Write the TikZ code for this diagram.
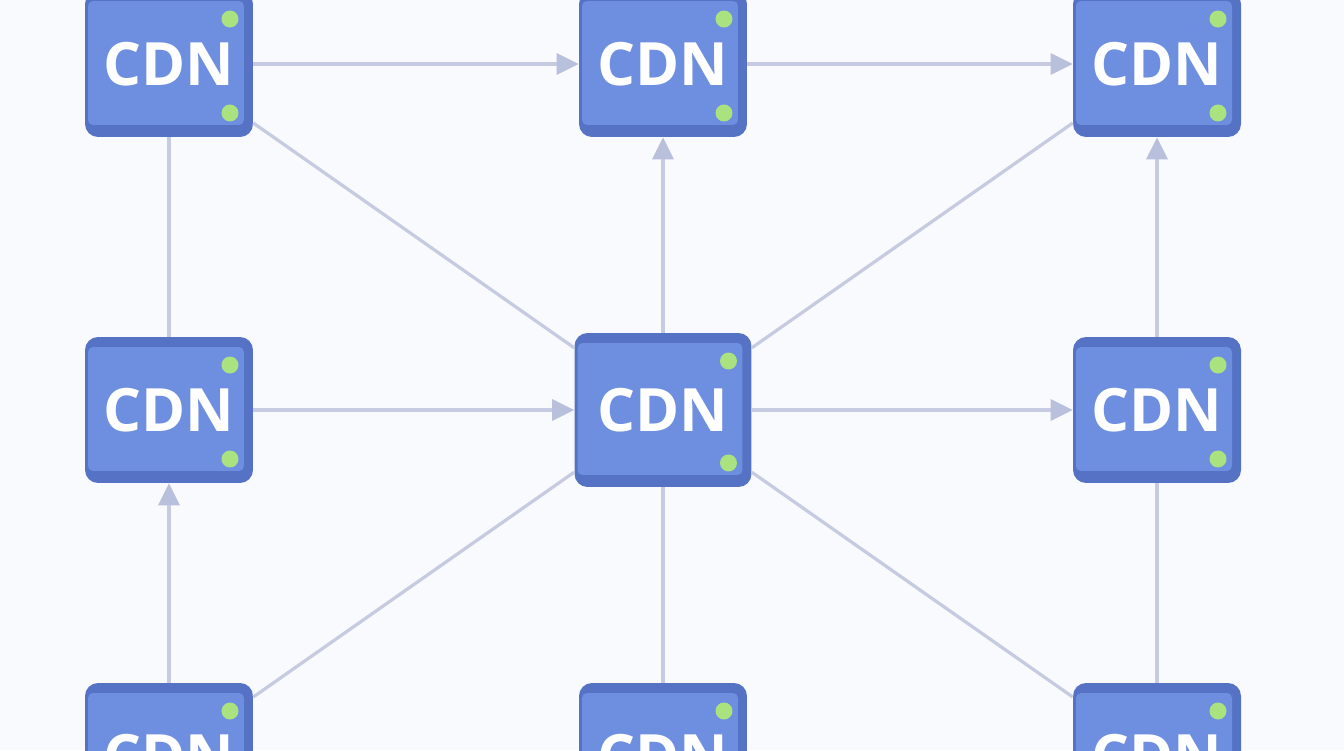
\documentclass[tikz,border=0pt]{standalone}
\usepackage{fontspec}
\usetikzlibrary{positioning}
\usetikzlibrary{arrows.meta}
\newfontfamily\cdnfont{Open Sans}
\definecolor{cdnrim}{HTML}{5672C4}
\definecolor{cdnface}{HTML}{6E8FE0}
\definecolor{cdnled}{HTML}{A9E27E}
\definecolor{linkgray}{HTML}{C6CBE1}
\definecolor{tipgray}{HTML}{B9C0DB}
\definecolor{paper}{HTML}{F9FAFD}

\tikzset{
  cdn/.style={rectangle, rounded corners=0.26cm, fill=cdnrim,
    minimum width=3.36cm, minimum height=2.92cm, inner sep=0pt,
    text=white, font=\cdnfont\bfseries\fontsize{34}{34}\selectfont,
    path picture={
      \fill[cdnface, rounded corners=0.1cm]
        ([shift={(0.06cm,-0.2cm)}]path picture bounding box.north west)
        rectangle ([shift={(-0.18cm,0.24cm)}]path picture bounding box.south east);
      \fill[cdnled] ([shift={(-0.46cm,-0.56cm)}]path picture bounding box.north east) circle (0.17cm);
      \fill[cdnled] ([shift={(-0.46cm,0.48cm)}]path picture bounding box.south east) circle (0.17cm);
    }},
  cdnbig/.style={cdn, minimum width=3.54cm, minimum height=3.08cm},
  link/.style={draw=linkgray, line width=0.065cm},
  flow/.style={link, -{Triangle[length=0.44cm, width=0.42cm, color=tipgray]}}
}

\begin{document}
\begin{tikzpicture}[x=0.02cm, y=-0.02cm]

\useasboundingbox (0,0) rectangle (1344,750);
\clip (0,0) rectangle (1344,750);
\fill[paper] (0,0) rectangle (1344,750);

% nodes %
{
\node[cdn] (tl) at (169,64) {CDN};
\node[cdn] (tc) at (663,64) {CDN};
\node[cdn] (tr) at (1157,64) {CDN};

\node[cdn] (ml) at (169,410) {CDN};
\node[cdnbig] (mc) at (663,410) {CDN};
\node[cdn] (mr) at (1157,410) {CDN};

\node[cdn] (bl) at (169,756) {CDN};
\node[cdn] (bc) at (663,756) {CDN};
\node[cdn] (br) at (1157,756) {CDN};
}

% connectors %
{
\draw[flow] (tl) -- (tc);
\draw[flow] (tc) -- (tr);
\draw[flow] (ml) -- (mc);
\draw[flow] (mc) -- (mr);

\draw[flow] (mc) -- (tc);
\draw[flow] (mr) -- (tr);
\draw[flow] (bl) -- (ml);

\draw[link] (tl) -- (ml);
\draw[link] (mc) -- (bc);
\draw[link] (mr) -- (br);

\draw[link] (tl) -- (mc);
\draw[link] (mc) -- (tr);
\draw[link] (bl) -- (mc);
\draw[link] (mc) -- (br);
}

\end{tikzpicture}
\end{document}
